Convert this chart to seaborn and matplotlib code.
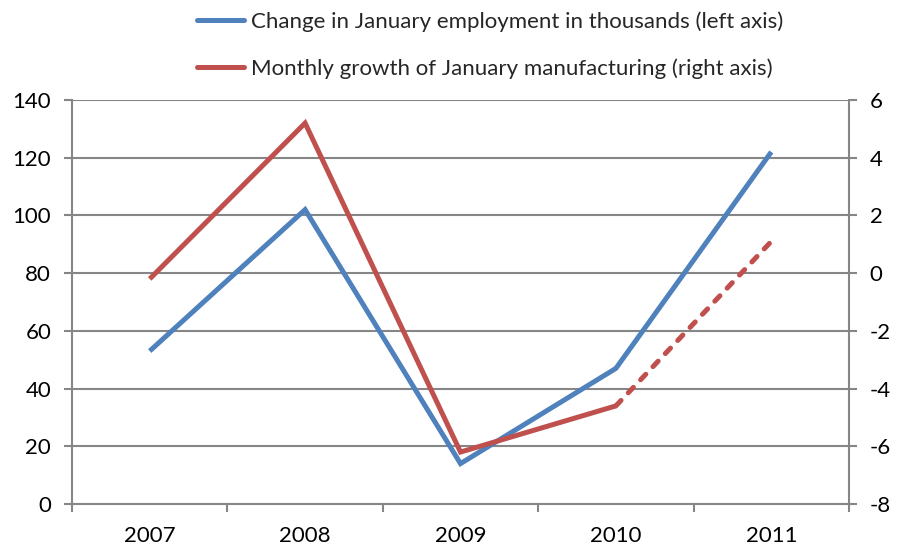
import matplotlib
matplotlib.use("Agg")
import matplotlib.pyplot as plt
import seaborn as sns
import pandas as pd
from matplotlib.lines import Line2D
from matplotlib.ticker import MultipleLocator, FixedLocator

years = ["2007", "2008", "2009", "2010", "2011"]
employment = [53, 102, 14, 47, 122]          # left axis, thousands
manufacturing = [-0.2, 5.2, -6.2, -4.6, 1.1]  # right axis, percent
label_emp = "Change in January employment in thousands (left axis)"
label_man = "Monthly growth of January manufacturing (right axis)"

sns.set_theme(style="white")
plt.rcParams["font.family"] = ["Lato", "DejaVu Sans"]
plt.rcParams["axes.unicode_minus"] = False

BLUE = "#4F81BD"
RED = "#C0504D"
GRID = "#868686"
FS = 16

pos = list(range(len(years)))
df = pd.DataFrame({"pos": pos, "year": years, "emp": employment, "man": manufacturing})

fig = plt.figure(figsize=(8.97, 5.55), dpi=100)
ax = fig.add_axes([72/897, 1-504/555, (849-72)/897, (504-100)/555])
ax2 = ax.twinx()

lw = 3.6
sns.lineplot(data=df, x="pos", y="emp", ax=ax, color=BLUE, linewidth=lw,
             solid_joinstyle="miter", solid_capstyle="butt", legend=False, zorder=3)
sns.lineplot(data=df.iloc[:4], x="pos", y="man", ax=ax2, color=RED, linewidth=lw,
             solid_joinstyle="miter", solid_capstyle="butt", legend=False, zorder=3)
sns.lineplot(data=df.iloc[3:], x="pos", y="man", ax=ax2, color=RED, linewidth=lw,
             linestyle=(0, (1.5, 2.1)), dash_capstyle="round", legend=False, zorder=3)

ax.set_xlim(-0.5, len(years) - 0.5)
ax.set_ylim(0, 140)
ax2.set_ylim(-8, 6)
ax.yaxis.set_major_locator(MultipleLocator(20))
ax2.yaxis.set_major_locator(MultipleLocator(2))

ax.set_xticks(pos)
ax.set_xticklabels(years)
ax.xaxis.set_minor_locator(FixedLocator([p - 0.5 for p in pos] + [len(years) - 0.5]))
ax.tick_params(axis="x", which="major", length=0, pad=16, labelsize=FS, colors="black")
ax.tick_params(axis="x", which="minor", length=6, width=1.5, color=GRID, direction="out", bottom=True)
ax.tick_params(axis="y", length=6, width=1.5, color=GRID, direction="out", pad=9, labelsize=FS, labelcolor="black", left=True)
ax2.tick_params(axis="y", length=6, width=1.5, color=GRID, direction="out", pad=9, labelsize=FS, labelcolor="black", right=True)

ax.grid(axis="y", color=GRID, linewidth=1.5)
ax.set_axisbelow(True)
for a in (ax, ax2):
    a.set_xlabel("")
    a.set_ylabel("")
    a.spines["top"].set_visible(False)
    for s in ("left", "right", "bottom"):
        a.spines[s].set_color(GRID)
        a.spines[s].set_linewidth(1.5)
ax.spines["right"].set_visible(False)
ax2.spines["left"].set_visible(False)
ax2.spines["bottom"].set_visible(False)

handles = [Line2D([], [], color=BLUE, linewidth=lw),
           Line2D([], [], color=RED, linewidth=lw)]
fig.legend(handles, [label_emp, label_man], loc="upper left",
           bbox_to_anchor=(197/897, 1 - 11/555), frameon=False, fontsize=FS,
           handlelength=2.1, handletextpad=0.35, labelspacing=1.2,
           borderpad=0, borderaxespad=0)

fig.savefig("out.png", dpi=100)
